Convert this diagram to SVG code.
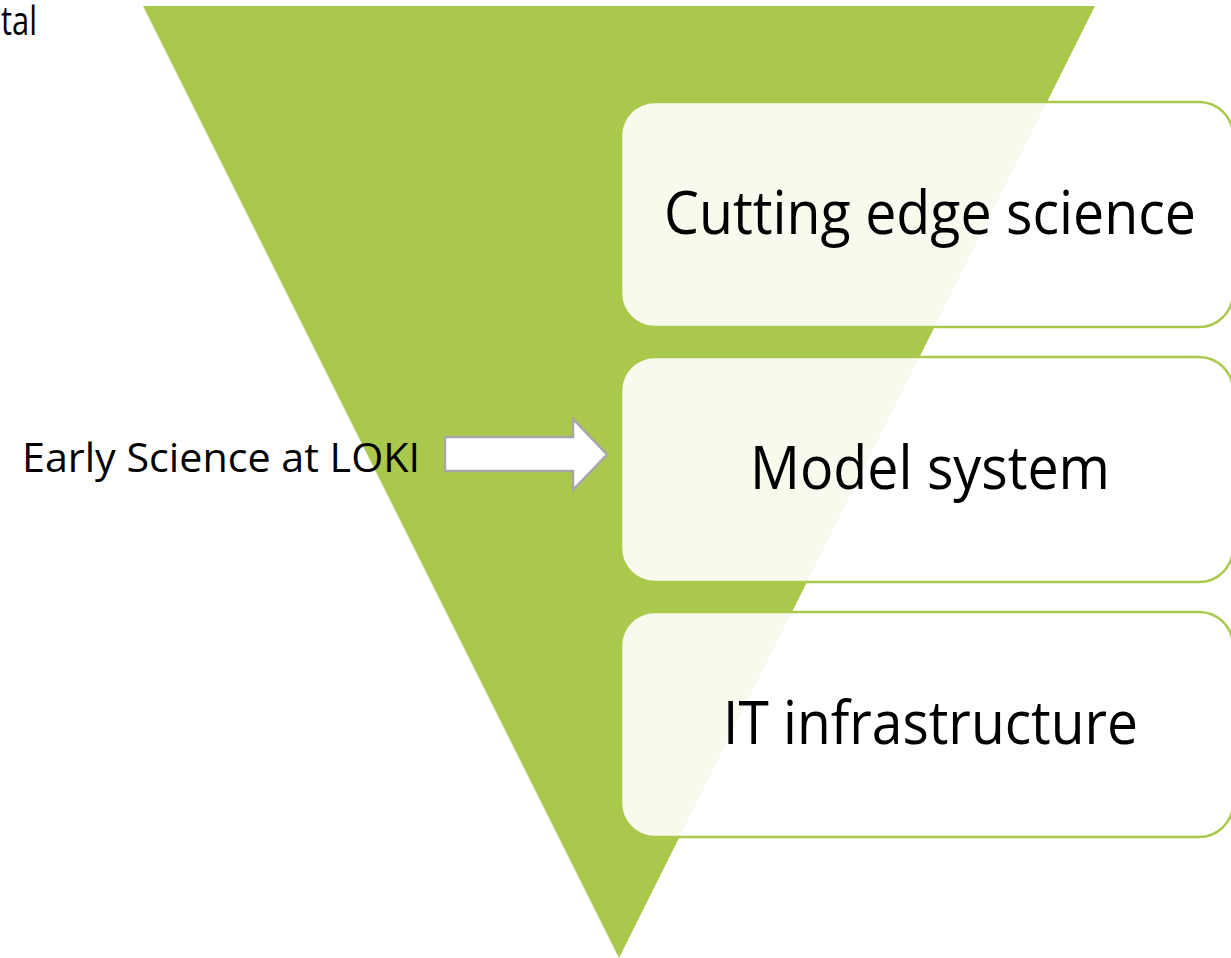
<svg xmlns="http://www.w3.org/2000/svg" width="1231" height="958" viewBox="0 0 1231 958">
  <style>
    .label { font-family: "Open Sans", "Liberation Sans", sans-serif; fill: #000; }
    .big { font-size: 60px; }
    .small { font-size: 41px; }
    .box { fill: #ffffff; fill-opacity: 0.9; stroke: #aac94c; stroke-width: 2.5; }
  </style>
  <rect width="1231" height="958" fill="#ffffff"/>

  <!-- funnel -->
  <g id="funnel">
    <polygon points="143,6 1095,6 619,958" fill="#aac94c"/>
  </g>

  <!-- partial heading at top-left -->
  <text class="label small" x="1" y="35" textLength="36" lengthAdjust="spacingAndGlyphs">tal</text>

  <g id="connectors">
    <path d="M445,437 L573,437 L573,419 L607,454.5 L573,490 L573,471 L445,471 Z" fill="#ffffff" stroke="#a6a6a6" stroke-width="2.5" stroke-linejoin="miter"/>
  </g>

  <g id="early-science">
    <text class="label small" x="22" y="472" textLength="398" lengthAdjust="spacingAndGlyphs">Early Science at LOKI</text>
  </g>

  <g id="cutting-edge">
    <rect class="box" x="621" y="102" width="612" height="225" rx="34" ry="34"/>
    <text class="label big" x="664" y="234" textLength="532" lengthAdjust="spacingAndGlyphs">Cutting edge science</text>
  </g>

  <g id="model-system">
    <rect class="box" x="621" y="357" width="612" height="225" rx="34" ry="34"/>
    <text class="label big" x="750" y="489" textLength="360" lengthAdjust="spacingAndGlyphs">Model system</text>
  </g>

  <g id="it-infrastructure">
    <rect class="box" x="621" y="612" width="612" height="225" rx="34" ry="34"/>
    <text class="label big" x="723" y="744" textLength="415" lengthAdjust="spacingAndGlyphs">IT infrastructure</text>
  </g>
</svg>
